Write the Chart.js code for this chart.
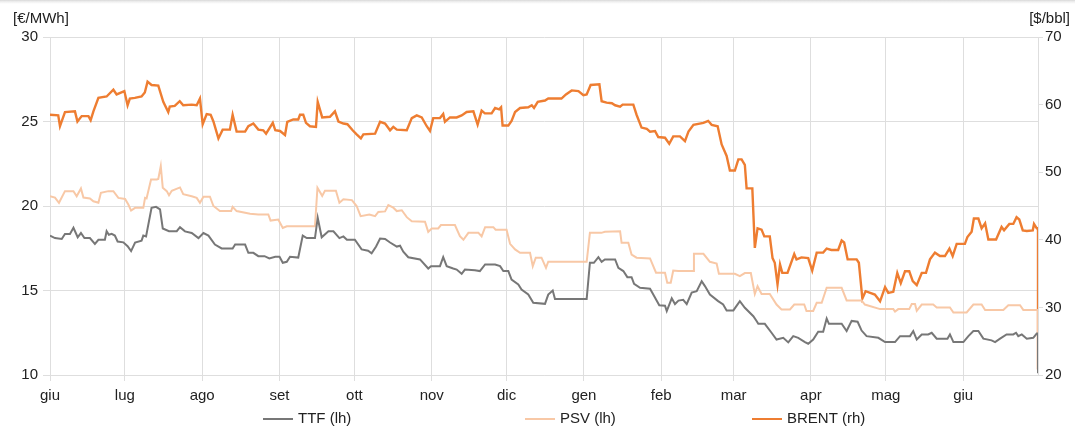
<!DOCTYPE html>
<html>
<head>
<meta charset="utf-8">
<script src="https://cdn.jsdelivr.net/npm/chart.js@4.4.0/dist/chart.umd.min.js"></script>
<style>
  html, body { margin: 0; padding: 0; background: #fff; }
  #wrap { width: 1075px; height: 428px; position: relative; }
</style>
</head>
<body>
<div id="wrap"><canvas id="gasChart" width="1075" height="428"></canvas></div>
<script>
// x = days since 1 June 2019
const monthStarts = [0, 30, 61, 92, 122, 153, 183, 214, 245, 274, 305, 335, 366];
const monthLabels = ['giu', 'lug', 'ago', 'set', 'ott', 'nov', 'dic', 'gen', 'feb', 'mar', 'apr', 'mag', 'giu'];
const lastDay = 396;

const ttfDays = [0, 2, 4.7, 6, 8, 9.4, 11.1, 12.4, 13.8, 16, 18, 19.4, 22, 22.7, 23.6, 24.7, 26, 27.1, 29.4, 31.1, 32.5, 34.1, 36.7, 37.4, 38.5, 40.7, 42.5, 44.1, 45.2, 47.7, 50.8, 52.1, 54.1, 56.8, 59.5, 61.5, 63.5, 66.1, 68.8, 73.2, 74.2, 78.2, 79.5, 81.5, 83.5, 86, 87.9, 90.3, 92, 93.3, 94.9, 96.2, 99.5, 101.3, 102.9, 106.2, 107.3, 108.9, 111.6, 113.6, 116, 117.6, 119, 122.2, 124.9, 127.5, 128.9, 130.7, 132.3, 134.3, 136.3, 139, 140.3, 141.6, 143.6, 148.3, 151.6, 152.7, 156.3, 157.6, 159, 161.6, 163, 165, 166.3, 170.3, 172.3, 174.4, 178.4, 180.4, 181.7, 183.7, 185, 187.7, 189, 191.7, 193.7, 198.4, 199.7, 201.5, 202.4, 215.1, 216.4, 218, 219.8, 221.1, 222.4, 226.5, 227.8, 229.8, 231.4, 233.1, 234.1, 236.5, 240.5, 241.8, 244.2, 246.5, 247.2, 249.2, 250.5, 251.9, 253.8, 255.2, 257.2, 259.2, 261.2, 262.5, 264.5, 267.8, 269.8, 271.2, 273.9, 276.5, 278.5, 281.9, 283.2, 283.9, 286.5, 289.2, 291.2, 293.9, 295.9, 297.9, 299.9, 302.6, 303.9, 305.9, 307.9, 309.9, 311.3, 312.2, 317.3, 319.3, 321.3, 323.7, 325.3, 327.3, 332, 334.7, 338.7, 340.7, 344.7, 346, 347.4, 349.4, 352, 353.4, 355.4, 359.7, 360.7, 362.1, 366.1, 368.1, 370.1, 372.1, 374.1, 377.4, 378.8, 380.8, 383.4, 386.1, 387.2, 388.1, 389.5, 391.5, 394.1, 395.5, 396, 396];
const ttfValues = [18.25, 18.1, 18.05, 18.35, 18.35, 18.71, 18.15, 18.4, 18.1, 18.1, 17.76, 18.0, 18.0, 18.51, 18.3, 18.35, 18.25, 17.9, 17.85, 17.62, 17.33, 17.84, 17.95, 18.25, 18.2, 19.89, 19.95, 19.8, 18.67, 18.51, 18.51, 18.75, 18.5, 18.4, 18.1, 18.4, 18.25, 17.72, 17.49, 17.49, 17.72, 17.72, 17.23, 17.23, 17.03, 17.03, 16.9, 17.0, 17.0, 16.64, 16.7, 17.0, 16.95, 18.25, 18.1, 18.1, 19.3, 18.15, 18.5, 18.5, 18.1, 18.2, 18.0, 18.0, 17.43, 17.35, 17.2, 17.6, 18.08, 18.05, 17.84, 17.6, 17.65, 17.3, 16.97, 16.84, 16.3, 16.44, 16.44, 16.97, 16.44, 16.3, 16.24, 15.99, 16.24, 16.2, 16.15, 16.54, 16.54, 16.44, 16.15, 16.15, 15.65, 15.36, 15.06, 14.76, 14.27, 14.21, 14.76, 15.0, 14.5, 14.5, 16.64, 16.64, 16.97, 16.7, 16.84, 16.84, 16.34, 16.15, 15.79, 15.79, 15.39, 15.16, 15.1, 14.76, 14.13, 14.1, 13.78, 14.54, 14.2, 14.4, 14.45, 14.2, 14.88, 14.96, 15.55, 15.26, 14.76, 14.37, 14.17, 13.82, 13.82, 14.37, 13.98, 13.48, 13.2, 13.03, 13.03, 12.5, 12.1, 12.2, 11.93, 12.3, 12.2, 11.95, 11.85, 12.1, 12.56, 12.56, 13.34, 13.03, 13.03, 12.6, 13.2, 13.15, 12.63, 12.3, 12.2, 11.95, 11.95, 12.3, 12.3, 12.6, 12.1, 12.4, 12.4, 12.5, 12.15, 12.15, 12.4, 11.95, 11.95, 12.3, 12.6, 12.6, 12.15, 12.05, 11.95, 12.15, 12.4, 12.4, 12.5, 12.3, 12.4, 12.15, 12.2, 12.45, 12.45, 10.1];

const psvDays = [0, 2, 3.6, 6, 9.4, 10.7, 12.4, 13.4, 16, 17.4, 19.4, 20.4, 23.4, 25.4, 27.4, 30.1, 31.4, 32.5, 34.1, 37.4, 38.1, 38.7, 40.5, 42.8, 43.4, 44.4, 45.2, 46.8, 47.7, 48.8, 52.1, 53.4, 56.8, 58.8, 60.1, 61.5, 64.1, 65.5, 68.1, 72.6, 73.2, 74.8, 80.2, 83.5, 87.5, 88.4, 91.5, 93.3, 94.9, 106.2, 107.2, 109.1, 110.2, 114.6, 116, 117.6, 121, 122.9, 124.5, 128, 130.3, 131.6, 134.3, 135.6, 137.6, 139, 141, 143, 145, 150.3, 151.6, 153, 155.6, 156.7, 162.3, 164.3, 165.7, 167.7, 171.7, 173, 174.4, 177.7, 178.6, 183, 184.4, 186.4, 188.4, 192.4, 193.5, 194.7, 197, 198.8, 199.7, 215.1, 216.4, 221, 222.4, 228.5, 229.1, 231.8, 233.1, 235.1, 240.5, 242.9, 246.5, 247.4, 248.8, 249.8, 251.8, 257.9, 258.1, 261.9, 264.5, 267.2, 268.1, 274.5, 276.5, 278.5, 280.9, 282.5, 283.6, 285.2, 288.5, 291.2, 293.2, 296.6, 298.3, 302.3, 303.2, 305.9, 307.3, 309.3, 311.3, 317.3, 319.3, 325.3, 326.6, 332.7, 338, 338.7, 340, 344.4, 345.4, 346.7, 347.4, 349.4, 354, 355.4, 360.7, 362.1, 367.4, 370.1, 373.4, 374.8, 382.1, 384.1, 388.8, 390.1, 396, 396];
const psvValues = [20.58, 20.5, 20.19, 20.88, 20.88, 20.58, 21.04, 20.5, 20.45, 20.28, 20.19, 20.78, 20.88, 20.88, 20.48, 20.42, 20.09, 19.73, 19.89, 19.89, 20.48, 20.45, 21.57, 21.57, 21.6, 22.36, 21.08, 20.88, 20.64, 20.9, 21.1, 20.7, 20.58, 20.48, 20.19, 20.55, 20.55, 20.0, 19.7, 19.7, 19.95, 19.7, 19.54, 19.5, 19.5, 19.14, 19.2, 18.7, 18.8, 18.8, 21.08, 20.6, 20.9, 20.9, 20.19, 20.4, 20.35, 20.0, 19.4, 19.5, 19.4, 19.65, 19.68, 20.05, 19.9, 19.7, 19.75, 19.34, 19.1, 19.07, 18.47, 18.67, 18.67, 18.87, 18.87, 18.21, 18.0, 18.41, 18.41, 18.2, 18.75, 18.75, 18.6, 18.6, 17.76, 17.43, 17.23, 17.23, 16.44, 16.94, 16.94, 16.34, 16.7, 16.7, 18.41, 18.41, 18.47, 18.5, 17.82, 17.82, 17.13, 16.94, 16.9, 16.05, 16.05, 15.46, 15.46, 16.18, 16.15, 16.15, 17.17, 17.17, 16.7, 16.6, 15.99, 15.99, 15.85, 16.03, 16.03, 14.8, 15.25, 14.8, 14.8, 14.17, 13.88, 13.88, 14.17, 14.17, 13.79, 13.79, 14.27, 14.27, 15.16, 15.16, 14.41, 14.41, 14.17, 13.9, 13.9, 13.75, 13.9, 13.9, 14.2, 14.2, 13.8, 14.17, 14.17, 14.0, 14.0, 13.7, 13.7, 14.17, 14.17, 13.85, 13.85, 14.13, 14.13, 13.85, 13.85, 10.3];

const brentDays = [0, 3.3, 4, 6, 10, 11, 12.7, 15.4, 16.3, 17.4, 19.4, 22.7, 25.4, 26.7, 29.8, 31.1, 32, 34, 36.7, 38, 39.1, 40.7, 43.4, 45.4, 47.4, 48, 50, 52, 53.4, 56.8, 58.8, 60.1, 61.2, 62.8, 64.4, 65.5, 67.5, 69.2, 72.1, 73.2, 74.8, 78.2, 79.5, 81.5, 83.5, 85.5, 86.6, 89.3, 90.3, 92.2, 94.2, 95.1, 97.5, 99.5, 100.2, 101.5, 102.6, 104.2, 106.6, 107.3, 109.1, 112.2, 114.2, 115.6, 117.6, 119.2, 121.3, 122.9, 124.6, 125.6, 130.3, 132.3, 134.3, 136.3, 137.6, 139, 143, 145, 147, 149, 151, 152.3, 153.6, 156.3, 157.6, 158.3, 160.3, 163, 165, 167, 169.7, 171.4, 173, 174.3, 177, 178.4, 180, 180.8, 181.4, 183.7, 185, 186.4, 188.4, 191.7, 193.1, 194, 195.5, 198.4, 199.7, 205, 206.8, 209.1, 211.8, 213.8, 215.1, 216.7, 220.2, 221.1, 223.1, 225.2, 226.5, 228.5, 229.5, 233.8, 235.1, 237.1, 239.2, 240.5, 242.5, 243.8, 246.5, 248.2, 249.8, 252.5, 254.5, 255.9, 257.9, 261.9, 263.8, 265.2, 267.6, 269.2, 271.2, 272.5, 274.5, 275.9, 277.2, 278.5, 279.2, 281.5, 282.5, 283.6, 285.2, 286.3, 288.5, 289.6, 290.5, 291.6, 292.6, 293.5, 295.6, 298.3, 299.2, 301.2, 303.9, 305.5, 307.3, 309.9, 311.3, 313.2, 315.9, 317.3, 318.3, 319.7, 323.3, 324.2, 325.6, 326.9, 330.6, 332.7, 334.7, 336, 338, 339.6, 341, 342.7, 344.4, 345.8, 347.4, 349.4, 351.1, 352.7, 354.7, 356.7, 358.7, 360.5, 361.8, 363.4, 366.7, 367.7, 369.4, 370.3, 372.1, 373.4, 374.8, 376.1, 379.2, 381.4, 382.4, 384.5, 386.1, 387.4, 388.5, 389.9, 391.5, 393.9, 394.4, 395.5, 396, 396];
const brentValues = [58.5, 58.4, 56.8, 58.9, 59.0, 57.5, 58.3, 58.3, 57.7, 59.0, 61.0, 61.2, 62.2, 61.5, 62.0, 59.9, 60.9, 61.0, 61.2, 61.8, 63.4, 62.9, 62.8, 60.4, 58.9, 59.7, 59.8, 60.5, 59.9, 60.0, 59.9, 60.9, 57.1, 58.6, 58.5, 57.5, 55.0, 56.3, 56.3, 58.5, 56.0, 56.0, 56.8, 57.2, 56.3, 56.2, 55.7, 57.3, 56.2, 56.1, 55.5, 57.45, 57.8, 57.8, 58.5, 58.5, 57.3, 56.8, 56.7, 60.4, 58.1, 58.2, 59.0, 57.5, 57.2, 57.1, 56.2, 55.6, 55.0, 55.6, 55.7, 57.45, 57.2, 56.2, 56.7, 56.3, 56.2, 58.0, 58.4, 58.1, 56.8, 56.1, 58.0, 58.0, 58.6, 57.45, 58.1, 58.1, 58.4, 58.9, 59.0, 57.05, 59.1, 58.7, 58.7, 59.5, 59.3, 59.6, 56.9, 56.9, 57.6, 58.9, 59.5, 59.6, 59.9, 59.5, 60.4, 60.6, 60.9, 60.9, 61.5, 62.1, 62.0, 61.4, 61.5, 62.9, 63.0, 60.5, 60.3, 60.2, 59.9, 59.7, 60.0, 60.0, 58.5, 56.6, 56.4, 56.0, 56.1, 55.2, 55.1, 54.2, 55.3, 55.3, 54.6, 56.0, 57.0, 57.3, 57.6, 57.0, 56.8, 54.1, 52.4, 50.25, 50.25, 51.9, 51.9, 51.1, 47.6, 47.6, 38.8, 41.7, 41.5, 40.5, 40.5, 37.3, 36.6, 33.4, 36.35, 35.1, 35.1, 37.9, 37.1, 37.4, 37.3, 35.45, 38.1, 38.1, 38.7, 38.5, 38.5, 39.9, 39.6, 37.1, 37.1, 36.6, 31.3, 32.4, 31.9, 30.9, 33.0, 32.15, 32.3, 35.1, 33.6, 35.35, 35.35, 33.9, 33.3, 35.1, 35.1, 37.1, 38.1, 37.6, 37.6, 38.7, 37.6, 39.4, 39.4, 40.4, 41.2, 43.15, 43.15, 41.7, 42.45, 40.05, 40.05, 41.9, 41.4, 42.35, 42.35, 43.35, 43.0, 41.4, 41.3, 41.4, 42.35, 41.7, 41.7, 20.8];

const seriesNames = ['TTF (lh)', 'PSV (lh)', 'BRENT (rh)'];
const seriesColors = ['#777777', '#F8C8A6', '#EE7D31'];

function points(days, vals) {
  return days.map((d, i) => ({ x: d, y: vals[i] }));
}

const FONT = '"Liberation Sans", Arial, sans-serif';
const gridColor = '#dedede';

// unit labels and the legend along the bottom
const extras = {
  id: 'extras',
  beforeDraw(chart) {
    const c = chart.ctx;
    const g = c.createLinearGradient(0, 0, 0, 5);
    g.addColorStop(0, '#d8d8d8');
    g.addColorStop(1, 'rgba(255,255,255,0)');
    c.save();
    c.fillStyle = g;
    c.fillRect(0, 0, chart.width, 5);
    c.restore();
  },
  afterDraw(chart) {
    const c = chart.ctx;
    c.save();
    c.font = '15px ' + FONT;
    c.fillStyle = '#222';
    c.textBaseline = 'middle';
    c.textAlign = 'left';
    c.fillText('[€/MWh]', 13, 19);
    c.textAlign = 'right';
    c.fillText('[$/bbl]', 1070, 19);

    const legendX = [263, 525, 752];
    c.textAlign = 'left';
    chart.data.datasets.forEach((ds, i) => {
      const x = legendX[i], y = 419;
      c.strokeStyle = ds.borderColor;
      c.lineWidth = 2;
      c.beginPath();
      c.moveTo(x, y);
      c.lineTo(x + 30, y);
      c.stroke();
      c.fillStyle = '#222';
      c.fillText(ds.label, x + 35, y);
    });
    c.restore();
  }
};

const ctx = document.getElementById('gasChart').getContext('2d');
new Chart(ctx, {
  type: 'line',
  data: {
    datasets: [
      { label: seriesNames[0], data: points(ttfDays, ttfValues), borderColor: seriesColors[0], borderWidth: 2, yAxisID: 'y' },
      { label: seriesNames[1], data: points(psvDays, psvValues), borderColor: seriesColors[1], borderWidth: 2, yAxisID: 'y' },
      { label: seriesNames[2], data: points(brentDays, brentValues), borderColor: seriesColors[2], borderWidth: 2.4, yAxisID: 'y2' }
    ]
  },
  options: {
    responsive: false,
    animation: false,
    events: [],
    layout: { padding: { top: 37, left: 0, right: 0, bottom: 0 } },
    elements: { point: { radius: 0 }, line: { tension: 0 } },
    plugins: { legend: { display: false }, tooltip: { enabled: false } },
    scales: {
      x: {
        type: 'linear',
        min: 0,
        max: lastDay,
        afterBuildTicks: s => { s.ticks = monthStarts.map(v => ({ value: v })); },
        afterFit: s => { s.height = 53; },
        ticks: {
          autoSkip: false,
          maxRotation: 0,
          padding: 6,
          color: '#222',
          font: { family: FONT, size: 15 },
          callback: v => monthLabels[monthStarts.indexOf(v)]
        },
        grid: { color: gridColor, tickLength: 6 },
        border: { color: gridColor }
      },
      y: {
        position: 'left',
        min: 10,
        max: 30,
        afterFit: s => { s.width = 50; },
        ticks: { stepSize: 5, padding: 5, color: '#222', font: { family: FONT, size: 15 } },
        grid: { color: gridColor, tickLength: 7 },
        border: { color: gridColor }
      },
      y2: {
        position: 'right',
        min: 20,
        max: 70,
        afterFit: s => { s.width = 37; },
        ticks: { stepSize: 10, padding: 2, color: '#222', font: { family: FONT, size: 15 } },
        grid: { drawOnChartArea: false, color: gridColor, tickLength: 5 },
        border: { color: gridColor }
      }
    }
  },
  plugins: [extras]
});
</script>
</body>
</html>
